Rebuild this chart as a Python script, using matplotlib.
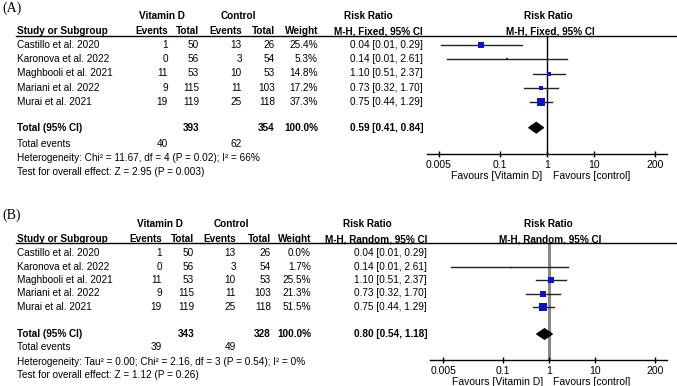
import matplotlib
matplotlib.use("Agg")
import matplotlib.pyplot as plt
from matplotlib.lines import Line2D
import numpy as np

# ---------------- data ----------------
studies = ["Castillo et al. 2020", "Karonova et al. 2022", "Maghbooli et al. 2021",
           "Mariani et al. 2022", "Murai et al. 2021"]
vd_events = [1, 0, 11, 9, 19]
vd_total = [50, 56, 53, 115, 119]
ctl_events = [13, 3, 10, 11, 25]
ctl_total = [26, 54, 53, 103, 118]
rr = [0.04, 0.14, 1.10, 0.73, 0.75]
ci_low = [0.0055, 0.0073, 0.51, 0.32, 0.44]
ci_high = [0.29, 2.61, 2.37, 1.70, 1.29]
weights_fixed = [25.4, 5.3, 14.8, 17.2, 37.3]
weights_random = [0.0, 1.7, 25.5, 21.3, 51.5]

totals_fixed = dict(vd_total=393, ctl_total=354, vd_events=40, ctl_events=62,
                    rr=0.59, lo=0.41, hi=0.84)
totals_random = dict(vd_total=343, ctl_total=328, vd_events=39, ctl_events=49,
                     rr=0.80, lo=0.54, hi=1.18)
het_fixed = "Heterogeneity: Chi\u00b2 = 11.67, df = 4 (P = 0.02); I\u00b2 = 66%"
test_fixed = "Test for overall effect: Z = 2.95 (P = 0.003)"
het_random = "Heterogeneity: Tau\u00b2 = 0.00; Chi\u00b2 = 2.16, df = 3 (P = 0.54); I\u00b2 = 0%"
test_random = "Test for overall effect: Z = 1.12 (P = 0.26)"

tick_values = [0.005, 0.1, 1, 10, 200]
tick_labels = ["0.005", "0.1", "1", "10", "200"]

# ---------------- figure ----------------
W, H = 677, 386
fig = plt.figure(figsize=(W / 100, H / 100), dpi=100)
SANS = "Liberation Sans"
FS = 7.2
BLUE = "#1010c8"


def fxy(x, y):
    return x / W, 1 - y / H


def t(x, y, s, ha="left", bold=False, **kw):
    fig.text(*fxy(x, y), s, ha=ha, va="center", fontsize=kw.pop("fs", FS),
             family=kw.pop("family", SANS),
             fontweight="bold" if bold else "normal", **kw)


def panel(lay, label, method, weights, tot, het, test, vcolor, vlw):
    t(2, lay["label_y"], label, family="Liberation Serif", fs=10)
    c = lay["cols"]
    t(lay["vd_c"], lay["group_y"], "Vitamin D", ha="center", bold=True)
    t(lay["ctl_c"], lay["group_y"], "Control", ha="center", bold=True)
    t(lay["rr1_c"], lay["group_y"], "Risk Ratio", ha="center", bold=True)
    t(lay["rr2_c"], lay["group_y"], "Risk Ratio", ha="center", bold=True)
    hy = lay["header_y"]
    t(17, hy, "Study or Subgroup", bold=True)
    for xx, s in zip(c, ["Events", "Total", "Events", "Total", "Weight"]):
        t(xx, hy, s, ha="right", bold=True)
    t(lay["ci_r"], hy, "M-H, %s, 95%% CI" % method, ha="right", bold=True)
    t(lay["rr2_c"] + 2, hy, "M-H, %s, 95%% CI" % method, ha="center", bold=True)
    fig.add_artist(Line2D([16 / W, 1], [1 - lay["line_y"] / H] * 2, color="black",
                          lw=1.0, transform=fig.transFigure))

    row_y = lambda i: lay["row0"] + lay["step"] * i
    for i, name in enumerate(studies):
        y = row_y(i)
        t(17, y, name)
        vals = [vd_events[i], vd_total[i], ctl_events[i], ctl_total[i]]
        for xx, v in zip(c[:4], vals):
            t(xx, y, str(v), ha="right")
        t(c[4], y, "%.1f%%" % weights[i], ha="right")
        t(lay["ci_r"], y, "%.2f [%.2f, %.2f]" % (rr[i], ci_low[i], ci_high[i]), ha="right")
    ty = row_y(lay["tot_rows"])
    t(17, ty, "Total (95% CI)", bold=True)
    t(c[1], ty, str(tot["vd_total"]), ha="right", bold=True)
    t(c[3], ty, str(tot["ctl_total"]), ha="right", bold=True)
    t(c[4], ty, "100.0%", ha="right", bold=True)
    t(lay["ci_r"], ty, "%.2f [%.2f, %.2f]" % (tot["rr"], tot["lo"], tot["hi"]),
      ha="right", bold=True)
    t(17, lay["te_y"], "Total events")
    t(c[0], lay["te_y"], str(tot["vd_events"]), ha="right")
    t(c[2], lay["te_y"], str(tot["ctl_events"]), ha="right")
    t(17, lay["het_y"], het)
    t(17, lay["test_y"], test)

    # forest axes
    x0, x1 = lay["ax_x"]
    top, bot = lay["line_y"], lay["axis_y"]
    ax = fig.add_axes([x0 / W, 1 - bot / H, (x1 - x0) / W, (bot - top) / H])
    ax.set_xscale("log")
    one, dec = lay["one_px"], lay["dec_px"]
    ax.set_xlim(10 ** ((x0 - one) / dec), 10 ** ((x1 - one) / dec))
    ax.set_ylim((bot - lay["row0"]) / lay["step"], (top - lay["row0"]) / lay["step"])
    for s in ["top", "left", "right"]:
        ax.spines[s].set_visible(False)
    ax.spines["bottom"].set_linewidth(1.0)
    ax.set_yticks([])
    ax.xaxis.set_major_locator(matplotlib.ticker.FixedLocator(tick_values))
    ax.xaxis.set_major_formatter(matplotlib.ticker.FixedFormatter(tick_labels))
    ax.xaxis.set_minor_locator(matplotlib.ticker.NullLocator())
    ax.tick_params(axis="x", direction="inout", length=5, width=1, labelsize=7.5,
                   pad=2)
    for lab in ax.get_xticklabels():
        lab.set_family(SANS)
    ax.patch.set_alpha(0)
    ax.axvline(1, color=vcolor, lw=vlw, zorder=1)
    for i in range(len(studies)):
        if weights[i] <= 0:
            continue
        ax.plot([ci_low[i], ci_high[i]], [i, i], color="#222222", lw=1.0, zorder=2)
        side = 1.15 * np.sqrt(weights[i]) * 0.72
        ax.plot([rr[i]], [i], marker="s", ms=side, color=BLUE, mec=BLUE, mew=0,
                zorder=3)
    hh = 5.2 / lay["step"]
    yt = lay["tot_rows"]
    ax.fill([tot["lo"], tot["rr"], tot["hi"], tot["rr"]], [yt, yt - hh, yt, yt + hh],
            color="black", zorder=4)
    fy = lay["fav_y"]
    t(lay["fav_l"], fy, "Favours [Vitamin D]", ha="right", fs=7.5)
    t(lay["fav_r"], fy, "Favours [control]", ha="left", fs=7.5)


layA = dict(label_y=8, group_y=16, header_y=31, line_y=36, row0=45, step=14.25,
            tot_rows=5.8, te_y=144, het_y=158, test_y=172, axis_y=154, fav_y=176,
            cols=[168, 199, 242, 275, 318], vd_c=162, ctl_c=238, rr1_c=368, rr2_c=548,
            ci_r=423, ax_x=(427, 667), one_px=547, dec_px=47, fav_l=542, fav_r=553)
layB = dict(label_y=215, group_y=224, header_y=239, line_y=243, row0=253, step=13.5,
            tot_rows=6.0, te_y=347, het_y=362, test_y=375, axis_y=360, fav_y=382,
            cols=[162, 194, 236, 271, 311], vd_c=160, ctl_c=231, rr1_c=367, rr2_c=548,
            ci_r=427, ax_x=(430, 667), one_px=549, dec_px=46, fav_l=543, fav_r=553)

panel(layA, "(A)", "Fixed", weights_fixed, totals_fixed, het_fixed, test_fixed,
      "black", 1.0)
panel(layB, "(B)", "Random", weights_random, totals_random, het_random, test_random,
      "#8a8a8a", 2.2)

fig.savefig("out.png", dpi=100)
